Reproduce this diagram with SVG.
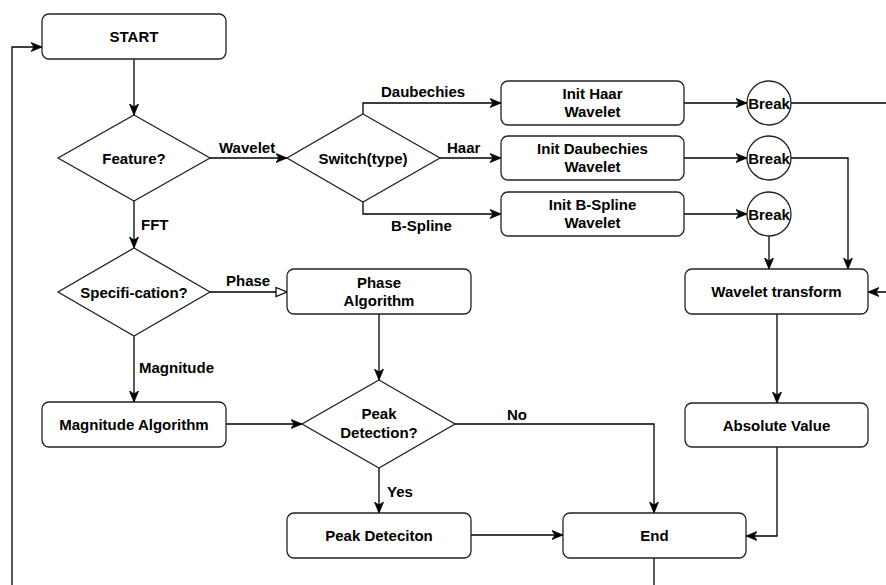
<svg xmlns="http://www.w3.org/2000/svg" width="886" height="585" viewBox="0 0 886 585">
<style>
  .box { fill: #ffffff; stroke: #222222; stroke-width: 1.3; }
  .t { font-family: "Liberation Sans", Arial, Helvetica, sans-serif; font-size: 15px; font-weight: bold; fill: #000000; text-anchor: middle; }
  .lbl { font-family: "Liberation Sans", Arial, Helvetica, sans-serif; font-size: 15px; font-weight: bold; fill: #000000; }
  .edge { fill: none; stroke: #000000; stroke-width: 1.3; }
  .arr { marker-end: url(#arrow); }
</style>
<defs>
  <marker id="arrow" markerUnits="userSpaceOnUse" markerWidth="12" markerHeight="10" refX="11" refY="5" orient="auto">
    <path d="M0,0.5 L11,5 L0,9.5 L3,5 Z" fill="#000000" stroke="#000000" stroke-width="0.8"/>
  </marker>
  <marker id="open" markerUnits="userSpaceOnUse" markerWidth="14" markerHeight="12" refX="12" refY="6" orient="auto">
    <path d="M1,1.5 L12,6 L1,10.5 Z" fill="#ffffff" stroke="#000000" stroke-width="1.2"/>
  </marker>
</defs>
<rect width="886" height="585" fill="#ffffff"/>

<g id="connectors">
  <path class="edge arr" d="M134,59 V115"/>
  <path class="edge arr" d="M210,158 H287"/>
  <path class="edge arr" d="M363,114 V103 H501"/>
  <path class="edge arr" d="M440,158 H501"/>
  <path class="edge arr" d="M363,202 V214 H501"/>
  <path class="edge arr" d="M684,103 H747"/>
  <path class="edge arr" d="M684,158 H747"/>
  <path class="edge arr" d="M684,214 H747"/>
  <path class="edge arr" d="M791,103 H898 V292 H868"/>
  <path class="edge arr" d="M791,158 H848 V269"/>
  <path class="edge arr" d="M769,236 V269"/>
  <path class="edge arr" d="M777,314 V403"/>
  <path class="edge arr" d="M777,447 V536 H746"/>
  <path class="edge arr" d="M654,558 V600 H12 V47 H42"/>
  <path class="edge arr" d="M134,201 V248"/>
  <path class="edge" marker-end="url(#open)" d="M210,292 H287"/>
  <path class="edge arr" d="M134,336 V402"/>
  <path class="edge arr" d="M226,424 H302"/>
  <path class="edge arr" d="M379,314 V380"/>
  <path class="edge arr" d="M455,424 H654 V513"/>
  <path class="edge arr" d="M379,468 V513"/>
  <path class="edge arr" d="M471,535 H563"/>
  <text class="lbl" x="219" y="153">Wavelet</text>
  <text class="lbl" x="381" y="97">Daubechies</text>
  <text class="lbl" x="447" y="153">Haar</text>
  <text class="lbl" x="391" y="231">B-Spline</text>
  <text class="lbl" x="141" y="230">FFT</text>
  <text class="lbl" x="226" y="286">Phase</text>
  <text class="lbl" x="139" y="373">Magnitude</text>
  <text class="lbl" x="507" y="420">No</text>
  <text class="lbl" x="387" y="497">Yes</text>
</g>

<g id="start">
  <rect class="box" x="42" y="14" width="184" height="45" rx="7"/>
  <text class="t" x="134" y="42">START</text>
</g>
<g id="feature">
  <polygon class="box" points="134,115 210,158 134,201 58,158"/>
  <text class="t" x="134" y="163.5">Feature?</text>
</g>
<g id="switch">
  <polygon class="box" points="363,114 440,158 363,202 287,158"/>
  <text class="t" x="363" y="163.5">Switch(type)</text>
</g>
<g id="init-haar">
  <rect class="box" x="501" y="81" width="183" height="44" rx="7"/>
  <text class="t" x="592.5" y="99">Init Haar</text>
  <text class="t" x="592.5" y="117">Wavelet</text>
</g>
<g id="init-daubechies">
  <rect class="box" x="501" y="136" width="183" height="44" rx="7"/>
  <text class="t" x="592.5" y="154">Init Daubechies</text>
  <text class="t" x="592.5" y="172">Wavelet</text>
</g>
<g id="init-bspline">
  <rect class="box" x="501" y="192" width="183" height="44" rx="7"/>
  <text class="t" x="592.5" y="210">Init B-Spline</text>
  <text class="t" x="592.5" y="228">Wavelet</text>
</g>
<g id="break1">
  <circle class="box" cx="769" cy="103" r="22"/>
  <text class="t" x="769" y="108.5">Break</text>
</g>
<g id="break2">
  <circle class="box" cx="769" cy="158" r="22"/>
  <text class="t" x="769" y="163.5">Break</text>
</g>
<g id="break3">
  <circle class="box" cx="769" cy="214" r="22"/>
  <text class="t" x="769" y="219.5">Break</text>
</g>
<g id="wavelet-transform">
  <rect class="box" x="685" y="269" width="183" height="45" rx="7"/>
  <text class="t" x="776.5" y="297">Wavelet transform</text>
</g>
<g id="absolute-value">
  <rect class="box" x="685" y="403" width="183" height="44" rx="7"/>
  <text class="t" x="776.5" y="430.5">Absolute Value</text>
</g>
<g id="specification">
  <polygon class="box" points="134,248 210,292 134,336 58,292"/>
  <text class="t" x="134" y="297.5">Specifi-cation?</text>
</g>
<g id="phase-algorithm">
  <rect class="box" x="287" y="269" width="184" height="45" rx="7"/>
  <text class="t" x="379" y="288">Phase</text>
  <text class="t" x="379" y="306">Algorithm</text>
</g>
<g id="magnitude-algorithm">
  <rect class="box" x="42" y="402" width="184" height="45" rx="7"/>
  <text class="t" x="134" y="430">Magnitude Algorithm</text>
</g>
<g id="peak-detection">
  <polygon class="box" points="379,380 455,424 379,468 302,424"/>
  <text class="t" x="379" y="419">Peak</text>
  <text class="t" x="379" y="438">Detection?</text>
</g>
<g id="peak-deteciton">
  <rect class="box" x="287" y="513" width="184" height="45" rx="7"/>
  <text class="t" x="379" y="541">Peak Deteciton</text>
</g>
<g id="end">
  <rect class="box" x="563" y="513" width="183" height="45" rx="7"/>
  <text class="t" x="654.5" y="541">End</text>
</g>
</svg>
